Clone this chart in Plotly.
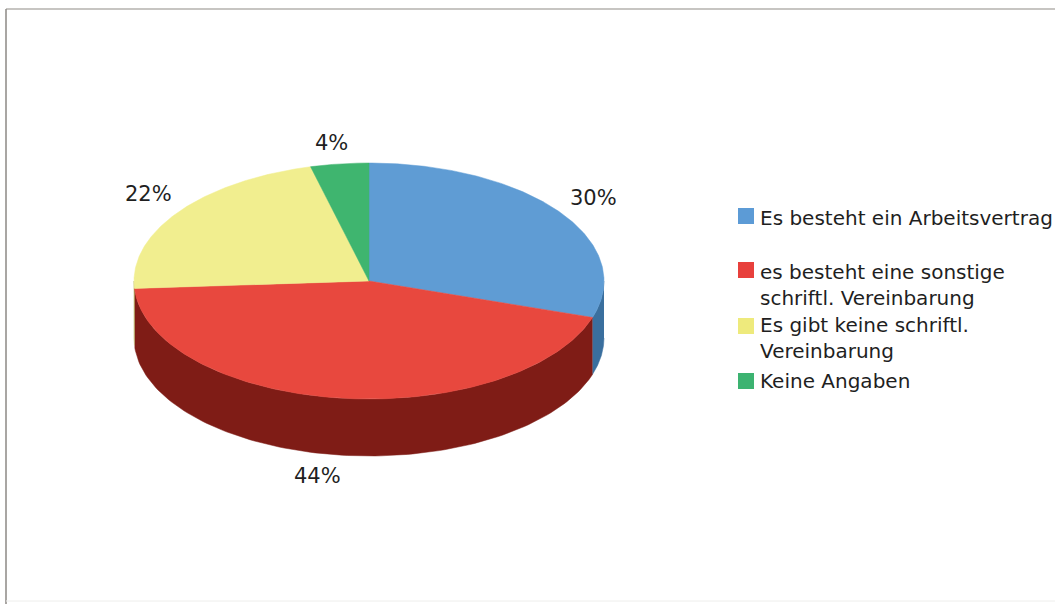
import numpy as np
import plotly.graph_objects as go

# Survey result: what kind of agreement exists
categories = [
    "Es besteht ein Arbeitsvertrag",
    "es besteht eine sonstige<br>schriftl. Vereinbarung",
    "Es gibt keine schriftl.<br>Vereinbarung",
    "Keine Angaben",
]
shares = [30, 44, 22, 4]
share_labels = ["30%", "44%", "22%", "4%"]

# Styling and layout of the tilted pie
TOP_COLORS = ["#5f9cd4", "#e8483e", "#f1ee8f", "#3fb56f"]
SIDE_COLORS = ["#3a6f9e", "#7f1c16", "#b5b25a", "#2a7d4c"]
KEY_COLORS = ["#5c9bd6", "#e8403c", "#eeea7c", "#3cb371"]
CX, CY, RX, RY, DEPTH = 369, 281, 235, 118, 57
LABEL_XY = [(593, 198), (317, 476), (148, 194), (331, 143)]
KEY_X, TEXT_X = 746, 758
KEY_Y = [216, 270, 326, 381]
TEXT_Y = [218, 284.5, 338, 381]
TEXT_COLOR = "#1f1f1f"
FONT = "DejaVu Sans"


def rim(a_deg, drop=0.0):
    """Projected rim point(s) for clockwise angles measured from twelve o'clock."""
    a = np.radians(a_deg)
    return CX + RX * np.sin(a), CY - RY * np.cos(a) + drop


fig = go.Figure()

ends = np.cumsum(shares) / np.sum(shares) * 360
starts = np.concatenate([[0], ends[:-1]])

# Outer wall: only the front half of the rim (90..270 degrees) is visible
for a0, a1, color in zip(starts, ends, SIDE_COLORS):
    lo, hi = max(a0, 90), min(a1, 270)
    if lo >= hi:
        continue
    arc = np.linspace(lo, hi, 120)
    xt, yt = rim(arc)
    xb, yb = rim(arc[::-1], DEPTH)
    fig.add_trace(go.Scatter(
        x=np.concatenate([xt, xb]), y=np.concatenate([yt, yb]),
        mode="lines", fill="toself", fillcolor=color,
        line=dict(color=color, width=0.5), hoverinfo="skip", showlegend=False,
    ))

# Top face wedges
for a0, a1, color, name, share in zip(starts, ends, TOP_COLORS, categories, shares):
    xs, ys = rim(np.linspace(a0, a1, 160))
    fig.add_trace(go.Scatter(
        x=np.concatenate([[CX], xs, [CX]]), y=np.concatenate([[CY], ys, [CY]]),
        mode="lines", fill="toself", fillcolor=color,
        line=dict(color=color, width=0.5), showlegend=False,
        name=name.replace("<br>", " "), text=f"{share}%", hoverinfo="name+text",
    ))

# Legend keys
fig.add_trace(go.Scatter(
    x=[KEY_X] * len(categories), y=KEY_Y, mode="markers",
    marker=dict(symbol="square", size=16, color=KEY_COLORS, line=dict(width=0)),
    hoverinfo="skip", showlegend=False,
))

annotations = []
for text, (x, y) in zip(share_labels, LABEL_XY):
    annotations.append(dict(
        x=x, y=y, text=text, showarrow=False, xanchor="center", yanchor="middle",
        font=dict(family=FONT, size=21, color=TEXT_COLOR),
    ))
for text, y in zip(categories, TEXT_Y):
    annotations.append(dict(
        x=TEXT_X, y=y, text=text, showarrow=False, xanchor="left", yanchor="middle",
        align="left", font=dict(family=FONT, size=20, color=TEXT_COLOR),
    ))

# Thin page frame along the top, left and bottom edges
frame = [
    dict(type="line", x0=6, x1=1055, y0=9, y1=9, line=dict(color="#b5b2ae", width=1.5)),
    dict(type="line", x0=6, x1=6, y0=9, y1=604, line=dict(color="#8d8984", width=1.5)),
    dict(type="line", x0=6, x1=1055, y0=601, y1=601, line=dict(color="#eeeeec", width=1)),
]

fig.update_layout(
    width=1055, height=604, margin=dict(l=0, r=0, t=0, b=0),
    paper_bgcolor="white", plot_bgcolor="white", showlegend=False,
    xaxis=dict(range=[0, 1055], visible=False, fixedrange=True),
    yaxis=dict(range=[604, 0], visible=False, fixedrange=True),
    annotations=annotations, shapes=frame,
)

fig.write_html("out.html")
